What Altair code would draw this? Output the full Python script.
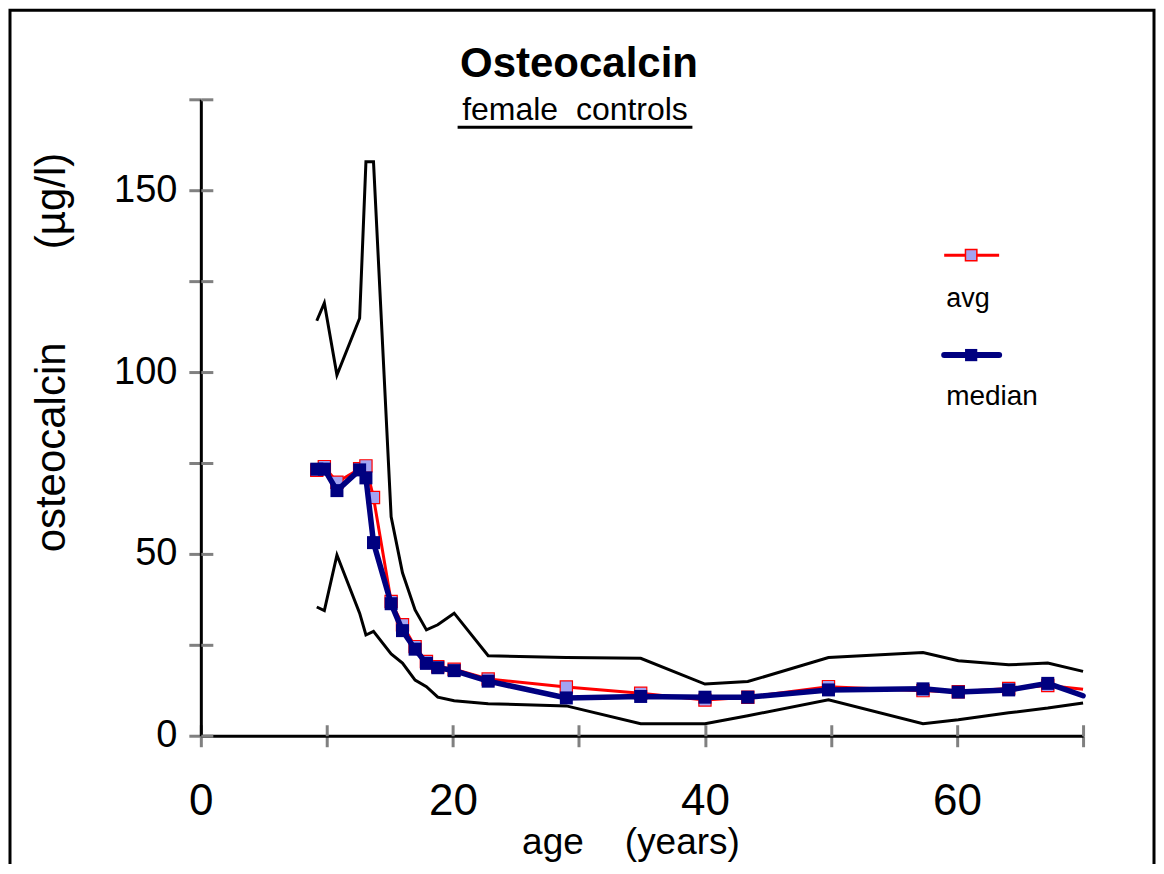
import altair as alt
import pandas as pd

# ---- data ----
age = [9.2, 9.8, 10.8, 12.6, 13.1, 13.7, 15.1, 16.0, 17.0, 17.9, 18.8, 20.1,
       22.8, 29.0, 34.9, 40.0, 43.4, 49.8, 57.3, 60.1, 64.1, 67.2, 70.0]
avg = [73.0, 74.0, 69.7, 73.4, 74.2, 65.5, 36.9, 30.5, 24.5, 20.4, 19.0, 18.3,
       15.6, 13.4, 11.7, 9.8, 10.6, 13.5, 12.4, 12.1, 13.0, 13.8, 12.8]
median = [73.3, 73.3, 67.4, 73.1, 70.9, 53.1, 36.3, 28.9, 23.8, 19.9, 18.7, 17.9,
          15.0, 10.4, 10.8, 10.6, 10.6, 12.6, 12.9, 12.0, 12.6, 14.4, 11.0]
upper = [114.1, 119.0, 99.2, 114.8, 157.8, 157.8, 60.2, 44.8, 34.6, 29.1, 30.5, 33.7,
         22.0, 21.5, 21.3, 14.2, 14.9, 21.5, 22.9, 20.6, 19.5, 20.0, 17.7]
lower = [35.4, 34.4, 49.7, 33.7, 27.7, 28.7, 22.5, 20.0, 15.3, 13.5, 10.6, 9.6,
         8.8, 8.2, 3.3, 3.3, 5.5, 9.9, 3.3, 4.4, 6.3, 7.6, 9.0]

x_ticks = [0, 10, 20, 30, 40, 50, 60, 70]
y_ticks = [0, 25, 50, 75, 100, 125, 150, 175]

NB = "\u00a0"
title_text = "Osteocalcin"
subtitle_text = "female" + NB * 2 + "controls"
x_title = "age" + NB * 4 + "(years)"
y_title = "osteocalcin" + NB * 8 + "(µg/l)"
legend_labels = ["avg", "median"]

df = pd.DataFrame({"age": age, "avg": avg, "median": median,
                   "upper": upper, "lower": lower})

W, H = 883, 637
FONT = "Liberation Sans"
GRAY = "#808080"
NAVY = "#000080"
RED = "#FF0000"
LIGHT = "#A3A3F2"

xs = alt.Scale(domain=[0, 70], nice=False)
ys = alt.Scale(domain=[0, 175], nice=False)

x_main = alt.Axis(values=x_ticks, labelExpr="datum.value % 20 == 0 ? datum.label : ''",
                  orient="bottom", grid=False, tickSize=11, tickColor=GRAY, tickWidth=3,
                  domainColor="black", domainWidth=3, labelFont=FONT, labelFontSize=44,
                  labelColor="black", labelPadding=33, labelFlush=False, labelOverlap=False,
                  title=x_title, titleFont=FONT, titleFontSize=37, titleFontWeight="normal",
                  titleColor="black", titleX=430, titleY=118, titleAlign="center",
                  titleBaseline="alphabetic")
y_main = alt.Axis(values=y_ticks, labelExpr="datum.value % 50 == 0 ? datum.label : ''",
                  orient="left", grid=False, tickSize=12, tickColor=GRAY, tickWidth=3,
                  domainColor="black", domainWidth=3, labelFont=FONT, labelFontSize=38,
                  labelColor="black", labelPadding=12, labelOverlap=False, labelFlush=False,
                  title=y_title, titleFont=FONT, titleFontSize=42, titleFontWeight="normal",
                  titleColor="black", titleX=-149, titleY=253, titleAngle=270,
                  titleAlign="center", titleBaseline="middle")
x_inner = alt.Axis(values=x_ticks, orient="top", offset=-H, grid=False, domain=False,
                   labels=False, tickSize=11, tickColor=GRAY, tickWidth=3, title="")
y_inner = alt.Axis(values=y_ticks, orient="right", offset=-W, grid=False, domain=False,
                   labels=False, tickSize=12, tickColor=GRAY, tickWidth=3, title="")

base = alt.Chart(df)

upper_line = base.mark_line(color="black", strokeWidth=3).encode(
    x=alt.X("age:Q", scale=xs, axis=x_main),
    y=alt.Y("upper:Q", scale=ys, axis=y_main))
lower_line = base.mark_line(color="black", strokeWidth=3).encode(
    x=alt.X("age:Q", scale=xs, axis=x_inner),
    y=alt.Y("lower:Q", scale=ys, axis=y_inner))
avg_line = base.mark_line(color=RED, strokeWidth=3).encode(
    x=alt.X("age:Q", scale=xs, axis=None),
    y=alt.Y("avg:Q", scale=ys, axis=None))
avg_pts = base.transform_filter("datum.age < 70").mark_square(
    size=150, color=LIGHT, stroke=RED, strokeWidth=1.2, opacity=1).encode(
    x=alt.X("age:Q", scale=xs, axis=None),
    y=alt.Y("avg:Q", scale=ys, axis=None))
med_line = base.mark_line(color=NAVY, strokeWidth=5.5, strokeCap="round").encode(
    x=alt.X("age:Q", scale=xs, axis=None),
    y=alt.Y("median:Q", scale=ys, axis=None))
med_pts = base.transform_filter("datum.age < 70").mark_square(
    size=169, color=NAVY, opacity=1).encode(
    x=alt.X("age:Q", scale=xs, axis=None),
    y=alt.Y("median:Q", scale=ys, axis=None))

one = pd.DataFrame({"k": [0]})

frame = alt.Chart(one).mark_rect(fillOpacity=0, stroke="black", strokeWidth=3).encode(
    x=alt.value(-191), x2=alt.value(954), y=alt.value(-89), y2=alt.value(800))

title = alt.Chart(pd.DataFrame({"t": [title_text]})).mark_text(
    font=FONT, fontSize=42, fontWeight="bold", color="black", align="center",
    baseline="alphabetic").encode(text="t:N", x=alt.value(378.5), y=alt.value(-22))
subtitle = alt.Chart(pd.DataFrame({"t": [subtitle_text]})).mark_text(
    font=FONT, fontSize=32, color="black", align="center",
    baseline="alphabetic").encode(text="t:N", x=alt.value(374.5), y=alt.value(21))
underline = alt.Chart(one).mark_rule(color="black", strokeWidth=3).encode(
    x=alt.value(257), x2=alt.value(492), y=alt.value(28))

leg_avg_line = alt.Chart(one).mark_rule(color=RED, strokeWidth=3).encode(
    x=alt.value(744), x2=alt.value(799), y=alt.value(156))
leg_avg_pt = alt.Chart(one).mark_square(size=130, color=LIGHT, stroke=RED,
                                        strokeWidth=1.5, opacity=1).encode(
    x=alt.value(771), y=alt.value(156))
leg_avg_txt = alt.Chart(pd.DataFrame({"t": [legend_labels[0]]})).mark_text(
    font=FONT, fontSize=27, color="black", align="left", baseline="alphabetic").encode(
    text="t:N", x=alt.value(746), y=alt.value(208))
leg_med_line = alt.Chart(one).mark_rule(color=NAVY, strokeWidth=6, strokeCap="round").encode(
    x=alt.value(744), x2=alt.value(799), y=alt.value(256))
leg_med_pt = alt.Chart(one).mark_square(size=150, color=NAVY, opacity=1).encode(
    x=alt.value(771), y=alt.value(256))
leg_med_txt = alt.Chart(pd.DataFrame({"t": [legend_labels[1]]})).mark_text(
    font=FONT, fontSize=28, color="black", align="left", baseline="alphabetic").encode(
    text="t:N", x=alt.value(746), y=alt.value(306))

chart = alt.layer(
    upper_line, lower_line, avg_line, avg_pts, med_line, med_pts,
    frame, title, subtitle, underline,
    leg_avg_line, leg_avg_pt, leg_avg_txt, leg_med_line, leg_med_pt, leg_med_txt,
).resolve_axis(x="independent", y="independent").properties(
    width=W, height=H,
    autosize=alt.AutoSizeParams(type="none"),
    padding={"left": 193, "top": 91, "right": 73, "bottom": 128},
    background="white",
).configure_view(strokeWidth=0)

chart.save("out.html", embed_options={"renderer": "svg", "actions": False})
